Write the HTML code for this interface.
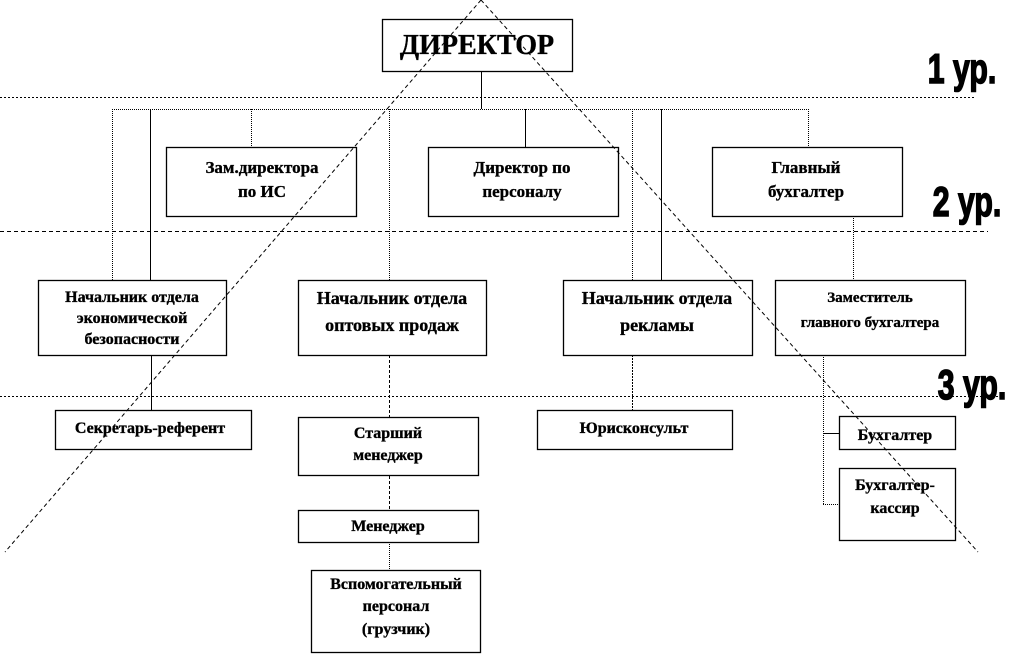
<!DOCTYPE html>
<html><head><meta charset="utf-8"><style>
html,body{margin:0;padding:0;background:#fff;}
svg{display:block;}
text{font-family:"Liberation Serif","DejaVu Serif",serif;font-weight:bold;fill:#000;stroke:#000;stroke-width:0.35;}
.lv{font-family:"Liberation Sans","DejaVu Sans",sans-serif;font-weight:bold;font-size:42px;stroke-width:1.6;}
</style></head><body>
<svg width="1009" height="654" viewBox="0 0 1009 654" xmlns="http://www.w3.org/2000/svg">
<g fill="#fff" stroke="#000" stroke-width="1">
<line x1="0" y1="97.5" x2="975" y2="97.5" stroke-dasharray="2,2"/>
<line x1="0" y1="231.5" x2="988" y2="231.5" stroke-dasharray="4,3"/>
<line x1="0" y1="396.5" x2="1000" y2="396.5" stroke-dasharray="2,2"/>
<line x1="481.5" y1="71" x2="481.5" y2="109"/>
<line x1="112" y1="109.5" x2="808" y2="109.5" stroke-dasharray="1,1"/>
<line x1="112.5" y1="109" x2="112.5" y2="280" stroke-dasharray="1,1"/>
<line x1="150.5" y1="109" x2="150.5" y2="280"/>
<line x1="251.5" y1="109" x2="251.5" y2="147" stroke-dasharray="1,1"/>
<line x1="389.5" y1="109" x2="389.5" y2="280" stroke-dasharray="1,1"/>
<line x1="525.5" y1="109" x2="525.5" y2="147"/>
<line x1="632.5" y1="109" x2="632.5" y2="280" stroke-dasharray="1,1"/>
<line x1="661.5" y1="109" x2="661.5" y2="280"/>
<line x1="808.5" y1="109" x2="808.5" y2="147" stroke-dasharray="1,1"/>
<line x1="853.5" y1="216" x2="853.5" y2="280" stroke-dasharray="1,1"/>
<line x1="151.5" y1="355" x2="151.5" y2="410"/>
<line x1="389.5" y1="355" x2="389.5" y2="417" stroke-dasharray="3,2"/>
<line x1="389.5" y1="476" x2="389.5" y2="510" stroke-dasharray="3,2"/>
<line x1="389.5" y1="542" x2="389.5" y2="570" stroke-dasharray="1,1"/>
<line x1="632.5" y1="355" x2="632.5" y2="410" stroke-dasharray="2,1"/>
<line x1="823.5" y1="355" x2="823.5" y2="505" stroke-dasharray="1,1"/>
<line x1="823" y1="433.5" x2="839" y2="433.5"/>
<line x1="823" y1="504.5" x2="839" y2="504.5" stroke-dasharray="1,1"/>
<g stroke-width="1.3">
<rect x="382.5" y="19.5" width="190" height="52"/>
<rect x="166.5" y="147.5" width="190" height="69"/>
<rect x="428.5" y="147.5" width="190" height="69"/>
<rect x="712.5" y="147.5" width="190" height="69"/>
<rect x="38.5" y="280.5" width="188" height="75"/>
<rect x="298.5" y="280.5" width="188" height="75"/>
<rect x="563.5" y="280.5" width="189" height="75"/>
<rect x="775.5" y="280.5" width="190" height="75"/>
<rect x="55.5" y="410.5" width="196" height="39"/>
<rect x="298.5" y="417.5" width="180" height="58"/>
<rect x="298.5" y="510.5" width="180" height="32"/>
<rect x="311.5" y="570.5" width="169" height="82"/>
<rect x="537.5" y="410.5" width="195" height="39"/>
<rect x="839.5" y="416.5" width="116" height="33"/>
<rect x="839.5" y="468.5" width="116" height="72"/>
</g>
<line x1="481" y1="0" x2="5" y2="552" stroke-dasharray="4,3" fill="none"/>
<line x1="481" y1="0" x2="978" y2="552" stroke-dasharray="4,3" fill="none"/>
</g>
<g text-anchor="middle" font-size="17">
<text x="477" y="54" font-size="28" stroke-width="0.6">ДИРЕКТОР</text>
<text x="262" y="173">Зам.директора</text>
<text x="262" y="197">по ИС</text>
<text x="522" y="173">Директор  по</text>
<text x="522" y="197">персоналу</text>
<text x="806" y="173">Главный</text>
<text x="806" y="197">бухгалтер</text>
<text x="132" y="302" font-size="16">Начальник отдела</text>
<text x="132" y="323" font-size="16">экономической</text>
<text x="132" y="344" font-size="16">безопасности</text>
<text x="392" y="304" font-size="18">Начальник  отдела</text>
<text x="392" y="331" font-size="18">оптовых  продаж</text>
<text x="657" y="304" font-size="18">Начальник  отдела</text>
<text x="657" y="331" font-size="18">рекламы</text>
<text x="870" y="302" font-size="15">Заместитель</text>
<text x="870" y="327" font-size="15">главного бухгалтера</text>
<text x="150" y="433" font-size="16">Секретарь-референт</text>
<text x="388" y="438" font-size="16">Старший</text>
<text x="388" y="460" font-size="16">менеджер</text>
<text x="388" y="531" font-size="16">Менеджер</text>
<text x="396" y="589" font-size="16">Вспомогательный</text>
<text x="396" y="611" font-size="16">персонал</text>
<text x="396" y="634" font-size="16">(грузчик)</text>
<text x="634" y="433" font-size="16">Юрисконсульт</text>
<text x="895" y="440" font-size="16">Бухгалтер</text>
<text x="895" y="490" font-size="16">Бухгалтер-</text>
<text x="895" y="513" font-size="16">кассир</text>
</g>
<text class="lv" x="962" y="83" text-anchor="middle" transform="translate(962 0) scale(0.72 1) translate(-962 0)">1 ур.</text>
<text class="lv" x="967" y="216" text-anchor="middle" transform="translate(967 0) scale(0.72 1) translate(-967 0)">2 ур.</text>
<text class="lv" x="972" y="399" text-anchor="middle" transform="translate(972 0) scale(0.72 1) translate(-972 0)">3 ур.</text>
</svg>
</body></html>
